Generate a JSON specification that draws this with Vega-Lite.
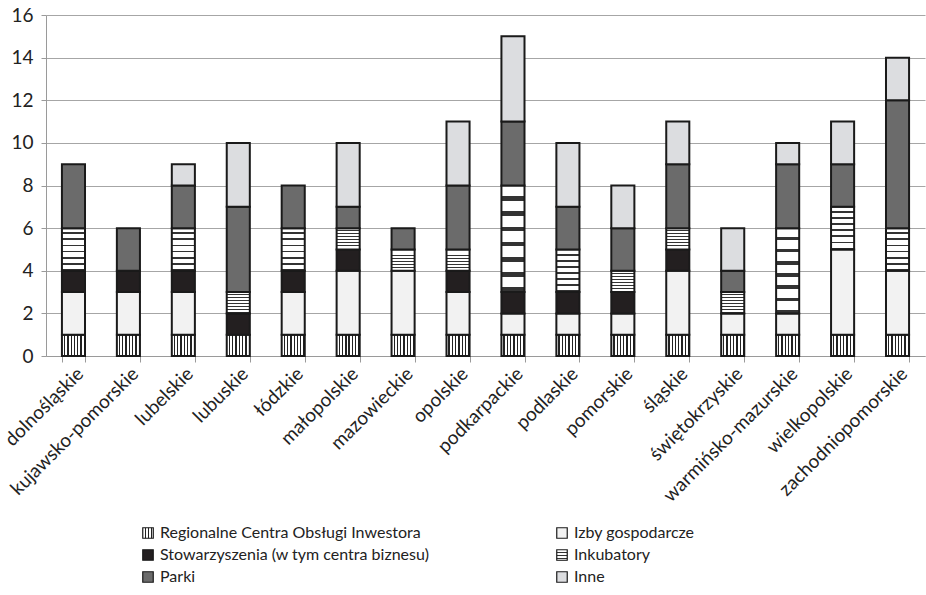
{
  "$schema": "https://vega.github.io/schema/vega-lite/v6.json",
  "width": 879,
  "height": 341,
  "autosize": "none",
  "padding": {"left": 46, "top": 15, "right": 1, "bottom": 239},
  "background": "white",
  "config": {
    "font": "Lato",
    "view": {"stroke": null},
    "axis": {"labelFont": "Lato", "labelColor": "#222", "domainColor": "#9a9a9a", "tickColor": "#9a9a9a", "gridColor": "#a6a6a6", "labelFontSize": 19}
  },
  "data": {
    "values": [
      {"region": "dolnośląskie", "cat": "Regionalne Centra Obsługi Inwestora", "k": 1, "n": 1},
      {"region": "dolnośląskie", "cat": "Izby gospodarcze", "k": 2, "n": 2},
      {"region": "dolnośląskie", "cat": "Stowarzyszenia (w tym centra biznesu)", "k": 3, "n": 1},
      {"region": "dolnośląskie", "cat": "Inkubatory", "k": 4, "n": 2},
      {"region": "dolnośląskie", "cat": "Parki", "k": 5, "n": 3},
      {"region": "kujawsko-pomorskie", "cat": "Regionalne Centra Obsługi Inwestora", "k": 1, "n": 1},
      {"region": "kujawsko-pomorskie", "cat": "Izby gospodarcze", "k": 2, "n": 2},
      {"region": "kujawsko-pomorskie", "cat": "Stowarzyszenia (w tym centra biznesu)", "k": 3, "n": 1},
      {"region": "kujawsko-pomorskie", "cat": "Parki", "k": 5, "n": 2},
      {"region": "lubelskie", "cat": "Regionalne Centra Obsługi Inwestora", "k": 1, "n": 1},
      {"region": "lubelskie", "cat": "Izby gospodarcze", "k": 2, "n": 2},
      {"region": "lubelskie", "cat": "Stowarzyszenia (w tym centra biznesu)", "k": 3, "n": 1},
      {"region": "lubelskie", "cat": "Inkubatory", "k": 4, "n": 2},
      {"region": "lubelskie", "cat": "Parki", "k": 5, "n": 2},
      {"region": "lubelskie", "cat": "Inne", "k": 6, "n": 1},
      {"region": "lubuskie", "cat": "Regionalne Centra Obsługi Inwestora", "k": 1, "n": 1},
      {"region": "lubuskie", "cat": "Stowarzyszenia (w tym centra biznesu)", "k": 3, "n": 1},
      {"region": "lubuskie", "cat": "Inkubatory", "k": 4, "n": 1},
      {"region": "lubuskie", "cat": "Parki", "k": 5, "n": 4},
      {"region": "lubuskie", "cat": "Inne", "k": 6, "n": 3},
      {"region": "łódzkie", "cat": "Regionalne Centra Obsługi Inwestora", "k": 1, "n": 1},
      {"region": "łódzkie", "cat": "Izby gospodarcze", "k": 2, "n": 2},
      {"region": "łódzkie", "cat": "Stowarzyszenia (w tym centra biznesu)", "k": 3, "n": 1},
      {"region": "łódzkie", "cat": "Inkubatory", "k": 4, "n": 2},
      {"region": "łódzkie", "cat": "Parki", "k": 5, "n": 2},
      {"region": "małopolskie", "cat": "Regionalne Centra Obsługi Inwestora", "k": 1, "n": 1},
      {"region": "małopolskie", "cat": "Izby gospodarcze", "k": 2, "n": 3},
      {"region": "małopolskie", "cat": "Stowarzyszenia (w tym centra biznesu)", "k": 3, "n": 1},
      {"region": "małopolskie", "cat": "Inkubatory", "k": 4, "n": 1},
      {"region": "małopolskie", "cat": "Parki", "k": 5, "n": 1},
      {"region": "małopolskie", "cat": "Inne", "k": 6, "n": 3},
      {"region": "mazowieckie", "cat": "Regionalne Centra Obsługi Inwestora", "k": 1, "n": 1},
      {"region": "mazowieckie", "cat": "Izby gospodarcze", "k": 2, "n": 3},
      {"region": "mazowieckie", "cat": "Inkubatory", "k": 4, "n": 1},
      {"region": "mazowieckie", "cat": "Parki", "k": 5, "n": 1},
      {"region": "opolskie", "cat": "Regionalne Centra Obsługi Inwestora", "k": 1, "n": 1},
      {"region": "opolskie", "cat": "Izby gospodarcze", "k": 2, "n": 2},
      {"region": "opolskie", "cat": "Stowarzyszenia (w tym centra biznesu)", "k": 3, "n": 1},
      {"region": "opolskie", "cat": "Inkubatory", "k": 4, "n": 1},
      {"region": "opolskie", "cat": "Parki", "k": 5, "n": 3},
      {"region": "opolskie", "cat": "Inne", "k": 6, "n": 3},
      {"region": "podkarpackie", "cat": "Regionalne Centra Obsługi Inwestora", "k": 1, "n": 1},
      {"region": "podkarpackie", "cat": "Izby gospodarcze", "k": 2, "n": 1},
      {"region": "podkarpackie", "cat": "Stowarzyszenia (w tym centra biznesu)", "k": 3, "n": 1},
      {"region": "podkarpackie", "cat": "Inkubatory", "k": 4, "n": 5},
      {"region": "podkarpackie", "cat": "Parki", "k": 5, "n": 3},
      {"region": "podkarpackie", "cat": "Inne", "k": 6, "n": 4},
      {"region": "podlaskie", "cat": "Regionalne Centra Obsługi Inwestora", "k": 1, "n": 1},
      {"region": "podlaskie", "cat": "Izby gospodarcze", "k": 2, "n": 1},
      {"region": "podlaskie", "cat": "Stowarzyszenia (w tym centra biznesu)", "k": 3, "n": 1},
      {"region": "podlaskie", "cat": "Inkubatory", "k": 4, "n": 2},
      {"region": "podlaskie", "cat": "Parki", "k": 5, "n": 2},
      {"region": "podlaskie", "cat": "Inne", "k": 6, "n": 3},
      {"region": "pomorskie", "cat": "Regionalne Centra Obsługi Inwestora", "k": 1, "n": 1},
      {"region": "pomorskie", "cat": "Izby gospodarcze", "k": 2, "n": 1},
      {"region": "pomorskie", "cat": "Stowarzyszenia (w tym centra biznesu)", "k": 3, "n": 1},
      {"region": "pomorskie", "cat": "Inkubatory", "k": 4, "n": 1},
      {"region": "pomorskie", "cat": "Parki", "k": 5, "n": 2},
      {"region": "pomorskie", "cat": "Inne", "k": 6, "n": 2},
      {"region": "śląskie", "cat": "Regionalne Centra Obsługi Inwestora", "k": 1, "n": 1},
      {"region": "śląskie", "cat": "Izby gospodarcze", "k": 2, "n": 3},
      {"region": "śląskie", "cat": "Stowarzyszenia (w tym centra biznesu)", "k": 3, "n": 1},
      {"region": "śląskie", "cat": "Inkubatory", "k": 4, "n": 1},
      {"region": "śląskie", "cat": "Parki", "k": 5, "n": 3},
      {"region": "śląskie", "cat": "Inne", "k": 6, "n": 2},
      {"region": "świętokrzyskie", "cat": "Regionalne Centra Obsługi Inwestora", "k": 1, "n": 1},
      {"region": "świętokrzyskie", "cat": "Izby gospodarcze", "k": 2, "n": 1},
      {"region": "świętokrzyskie", "cat": "Inkubatory", "k": 4, "n": 1},
      {"region": "świętokrzyskie", "cat": "Parki", "k": 5, "n": 1},
      {"region": "świętokrzyskie", "cat": "Inne", "k": 6, "n": 2},
      {"region": "warmińsko-mazurskie", "cat": "Regionalne Centra Obsługi Inwestora", "k": 1, "n": 1},
      {"region": "warmińsko-mazurskie", "cat": "Izby gospodarcze", "k": 2, "n": 1},
      {"region": "warmińsko-mazurskie", "cat": "Inkubatory", "k": 4, "n": 4},
      {"region": "warmińsko-mazurskie", "cat": "Parki", "k": 5, "n": 3},
      {"region": "warmińsko-mazurskie", "cat": "Inne", "k": 6, "n": 1},
      {"region": "wielkopolskie", "cat": "Regionalne Centra Obsługi Inwestora", "k": 1, "n": 1},
      {"region": "wielkopolskie", "cat": "Izby gospodarcze", "k": 2, "n": 4},
      {"region": "wielkopolskie", "cat": "Inkubatory", "k": 4, "n": 2},
      {"region": "wielkopolskie", "cat": "Parki", "k": 5, "n": 2},
      {"region": "wielkopolskie", "cat": "Inne", "k": 6, "n": 2},
      {"region": "zachodniopomorskie", "cat": "Regionalne Centra Obsługi Inwestora", "k": 1, "n": 1},
      {"region": "zachodniopomorskie", "cat": "Izby gospodarcze", "k": 2, "n": 3},
      {"region": "zachodniopomorskie", "cat": "Inkubatory", "k": 4, "n": 2},
      {"region": "zachodniopomorskie", "cat": "Parki", "k": 5, "n": 6},
      {"region": "zachodniopomorskie", "cat": "Inne", "k": 6, "n": 2}
    ]
  },
  "mark": {"type": "bar", "stroke": "#1a1a1a", "strokeWidth": 2},
  "encoding": {
    "x": {
      "field": "region", "type": "nominal", "sort": null,
      "scale": {"paddingInner": 0.58, "paddingOuter": 0.29},
      "axis": {"title": null, "labelAngle": -45, "labelAlign": "right", "labelBaseline": "top", "tickBand": "extent", "tickSize": 6, "labelPadding": 2, "labelFontSize": 19, "labelLimit": 400}
    },
    "y": {
      "field": "n", "type": "quantitative", "stack": "zero",
      "scale": {"domain": [0, 16]},
      "axis": {"title": null, "values": [0, 2, 4, 6, 8, 10, 12, 14, 16], "tickSize": 5, "labelPadding": 8, "labelFontSize": 19, "domain": true}
    },
    "order": {"field": "k", "type": "quantitative", "sort": "ascending"},
    "color": {
      "field": "cat", "type": "nominal",
      "scale": {
        "domain": ["Regionalne Centra Obsługi Inwestora", "Izby gospodarcze", "Stowarzyszenia (w tym centra biznesu)", "Inkubatory", "Parki", "Inne"],
        "range": [
          {"expr": "{gradient: 'linear', x1: 0, y1: 0, x2: 1, y2: 0, stops: [{offset: 0, color: '#ffffff'}, {offset: 0.0857, color: '#ffffff'}, {offset: 0.0857, color: '#222222'}, {offset: 0.1429, color: '#222222'}, {offset: 0.1429, color: '#ffffff'}, {offset: 0.2286, color: '#ffffff'}, {offset: 0.2286, color: '#222222'}, {offset: 0.2857, color: '#222222'}, {offset: 0.2857, color: '#ffffff'}, {offset: 0.3714, color: '#ffffff'}, {offset: 0.3714, color: '#222222'}, {offset: 0.4286, color: '#222222'}, {offset: 0.4286, color: '#ffffff'}, {offset: 0.5143, color: '#ffffff'}, {offset: 0.5143, color: '#222222'}, {offset: 0.5714, color: '#222222'}, {offset: 0.5714, color: '#ffffff'}, {offset: 0.6571, color: '#ffffff'}, {offset: 0.6571, color: '#222222'}, {offset: 0.7143, color: '#222222'}, {offset: 0.7143, color: '#ffffff'}, {offset: 0.8, color: '#ffffff'}, {offset: 0.8, color: '#222222'}, {offset: 0.8571, color: '#222222'}, {offset: 0.8571, color: '#ffffff'}, {offset: 0.9429, color: '#ffffff'}, {offset: 0.9429, color: '#222222'}, {offset: 1, color: '#222222'}]}"},
          "#f2f2f2",
          "#231f20",
          {"expr": "{gradient: 'linear', x1: 0, y1: 0, x2: 0, y2: 1, stops: [{offset: 0, color: '#ffffff'}, {offset: 0.1, color: '#ffffff'}, {offset: 0.1, color: '#333333'}, {offset: 0.1429, color: '#333333'}, {offset: 0.1429, color: '#ffffff'}, {offset: 0.2429, color: '#ffffff'}, {offset: 0.2429, color: '#333333'}, {offset: 0.2857, color: '#333333'}, {offset: 0.2857, color: '#ffffff'}, {offset: 0.3857, color: '#ffffff'}, {offset: 0.3857, color: '#333333'}, {offset: 0.4286, color: '#333333'}, {offset: 0.4286, color: '#ffffff'}, {offset: 0.5286, color: '#ffffff'}, {offset: 0.5286, color: '#333333'}, {offset: 0.5714, color: '#333333'}, {offset: 0.5714, color: '#ffffff'}, {offset: 0.6714, color: '#ffffff'}, {offset: 0.6714, color: '#333333'}, {offset: 0.7143, color: '#333333'}, {offset: 0.7143, color: '#ffffff'}, {offset: 0.8143, color: '#ffffff'}, {offset: 0.8143, color: '#333333'}, {offset: 0.8571, color: '#333333'}, {offset: 0.8571, color: '#ffffff'}, {offset: 0.9571, color: '#ffffff'}, {offset: 0.9571, color: '#333333'}, {offset: 1, color: '#333333'}]}"},
          "#6b6b6b",
          "#dcdde0"
        ]
      },
      "legend": {
        "title": null, "orient": "none", "legendX": 94, "legendY": 510,
        "direction": "horizontal", "columns": 2, "columnPadding": 124, "rowPadding": 6,
        "symbolType": "square", "symbolSize": 110, "symbolStrokeColor": "#1a1a1a", "symbolStrokeWidth": 1,
        "labelFont": "Lato", "labelFontSize": 16, "labelColor": "#222", "labelOffset": 4, "labelLimit": 400,
        "encode": {
          "symbols": {
            "update": {
              "stroke": {"value": "#1a1a1a"},
              "strokeWidth": {"value": 1.2}
            }
          }
        }
      }
    }
  }
}
